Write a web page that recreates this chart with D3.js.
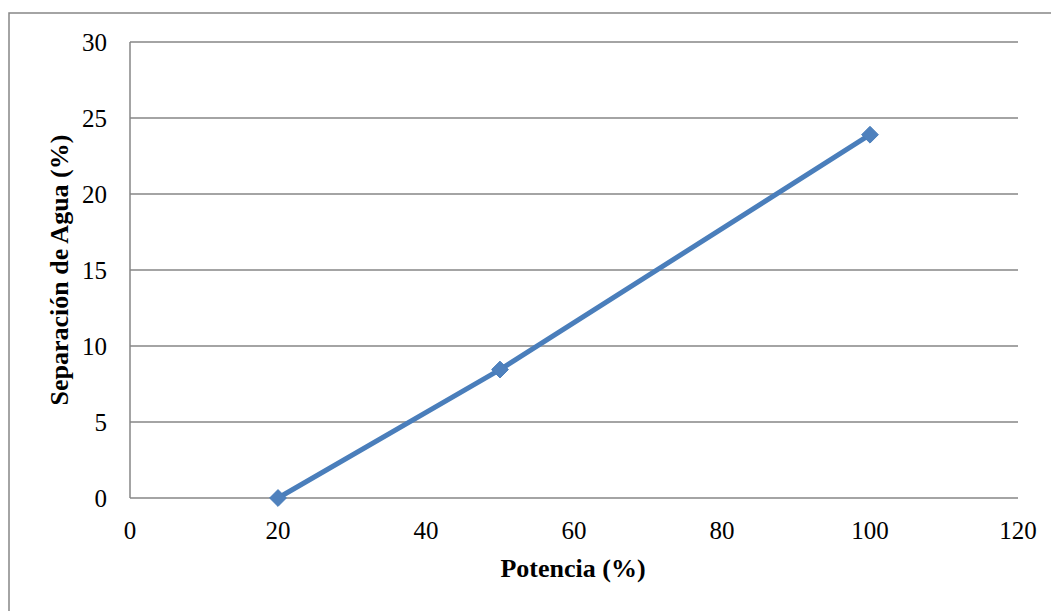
<!DOCTYPE html>
<html><head><meta charset="utf-8">
<script src="https://cdn.jsdelivr.net/npm/d3@7"></script>
<style>body{margin:0;background:#fff}svg{display:block}</style>
</head><body>
<script>
const potencia = [20, 50, 100];
const separacion = [0, 8.45, 23.9];
const xTicks = [0, 20, 40, 60, 80, 100, 120];
const yTicks = [0, 5, 10, 15, 20, 25, 30];
const xTitle = "Potencia (%)";
const yTitle = "Separación de Agua (%)";

const W = 1051, H = 611;
const svg = d3.select("body").append("svg").attr("width", W).attr("height", H);
const font = "'Liberation Serif','Times New Roman',serif";

svg.append("rect").attr("x", 9).attr("y", 13).attr("width", W + 20).attr("height", H + 20)
  .attr("fill", "none").attr("stroke", "#868686").attr("stroke-width", 1.5);

const x = d3.scaleLinear().domain([0, 120]).range([130, 1018]);
const y = d3.scaleLinear().domain([0, 30]).range([498, 42]);

// gridlines
svg.append("g").selectAll("line").data(yTicks).join("line")
  .attr("x1", x(0)).attr("x2", x(120)).attr("y1", d => y(d)).attr("y2", d => y(d))
  .attr("stroke", "#868686").attr("stroke-width", 1.5);
// y axis line
svg.append("line").attr("x1", x(0)).attr("x2", x(0)).attr("y1", y(0)).attr("y2", y(30))
  .attr("stroke", "#868686").attr("stroke-width", 1.5);

// tick labels
svg.append("g").selectAll("text").data(yTicks).join("text")
  .attr("x", 107).attr("y", d => y(d)).attr("dy", "0.36em").attr("text-anchor", "end")
  .attr("font-family", font).attr("font-size", 25).text(d => d);
svg.append("g").selectAll("text").data(xTicks).join("text")
  .attr("x", d => x(d)).attr("y", 539).attr("text-anchor", "middle")
  .attr("font-family", font).attr("font-size", 25).text(d => d);

// titles
svg.append("text").attr("x", 573).attr("y", 577).attr("text-anchor", "middle")
  .attr("font-family", font).attr("font-size", 26).attr("font-weight", "bold").text(xTitle);
svg.append("text").attr("transform", "translate(68,270) rotate(-90)").attr("text-anchor", "middle")
  .attr("font-family", font).attr("font-size", 26).attr("font-weight", "bold").text(yTitle);

const pts = potencia.map((p, i) => [p, separacion[i]]);
svg.append("path").datum(pts)
  .attr("d", d3.line().x(d => x(d[0])).y(d => y(d[1])))
  .attr("fill", "none").attr("stroke", "#4A7EBB").attr("stroke-width", 5).attr("stroke-linejoin", "round");
svg.append("g").selectAll("path").data(pts).join("path")
  .attr("transform", d => `translate(${x(d[0])},${y(d[1])})`)
  .attr("d", d3.symbol().type(d3.symbolDiamond2).size(180))
  .attr("fill", "#4F81BD").attr("stroke", "#4A7EBB").attr("stroke-width", 1);
</script>
</body></html>
